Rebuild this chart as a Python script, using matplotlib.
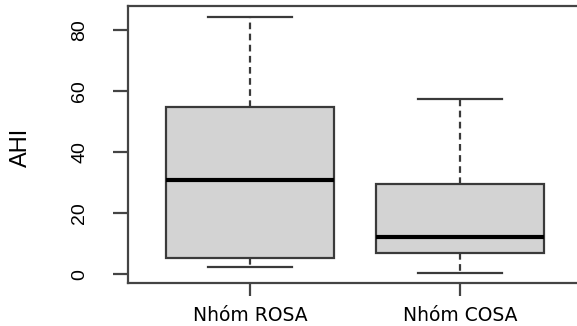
import matplotlib
matplotlib.use('Agg')
import matplotlib.pyplot as plt

# values (AHI)
groups = ['Nhóm ROSA', 'Nhóm COSA']
whisker_low = [2.5, 0.55]
q1 = [5.4, 7.1]
median = [30.9, 12.2]
q3 = [54.9, 29.6]
whisker_high = [84.5, 57.4]
yticks = [0, 20, 40, 60, 80]

stats = []
for i, name in enumerate(groups):
    stats.append(dict(label=name, whislo=whisker_low[i], q1=q1[i], med=median[i],
                      q3=q3[i], whishi=whisker_high[i], fliers=[]))

fig = plt.figure(figsize=(5.77, 3.26), dpi=100)
ax = fig.add_axes([0.2224, 0.1328, 0.786, 0.8488])

line_col = '#3a3a3a'
ax.bxp(stats, positions=[1, 2], widths=0.8, capwidths=0.4, patch_artist=True,
       boxprops=dict(facecolor='#d3d3d3', edgecolor=line_col, linewidth=1.6),
       medianprops=dict(color='black', linewidth=3),
       whiskerprops=dict(color=line_col, linewidth=1.6, linestyle=(0, (3, 2))),
       capprops=dict(color=line_col, linewidth=1.6))

ax.set_xlim(0.42, 2.58)
ax.set_ylim(-2.75, 88.0)

for s in ax.spines.values():
    s.set_color('#444444')
    s.set_linewidth(1.6)

ax.set_yticks(yticks)
ax.set_yticklabels([str(v) for v in yticks], family='Liberation Sans', fontsize=14,
                   rotation=90, va='center')
ax.tick_params(axis='y', length=11, width=1.6, color='#444444', pad=18)
ax.tick_params(axis='x', length=9, width=1.6, color='#444444', pad=8)
for lab in ax.get_xticklabels():
    lab.set_fontsize(13.5)
    lab.set_family('DejaVu Sans')

ax.set_ylabel('AHI', family='Liberation Sans', fontsize=17)
ax.yaxis.label.set_va('center')
ax.yaxis.set_label_coords(-0.236, 0.49)

fig.savefig('out.png', dpi=100)
